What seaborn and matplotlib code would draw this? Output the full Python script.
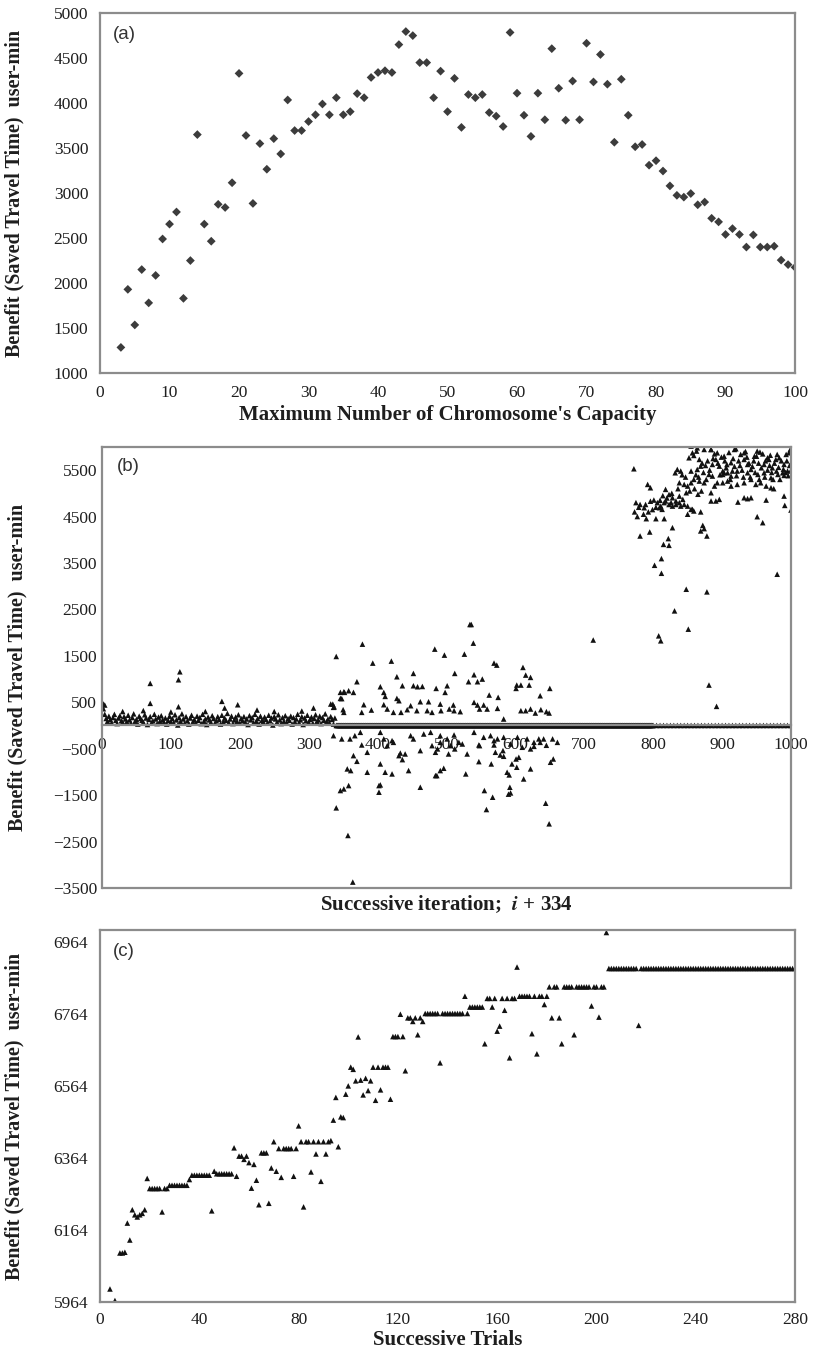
import matplotlib
matplotlib.use("Agg")
import matplotlib.pyplot as plt
import seaborn as sns

# ---- panel (a): benefit vs maximum chromosome capacity ----
a_capacity = list(range(3, 101))
a_benefit = [
    1285, 1930, 1535, 2150, 1780, 2085, 2490,
    2655, 2790, 1830, 2250, 3650, 2655, 2465, 2875, 2840, 3115,
    4330, 3640, 2885, 3550, 3265, 3605, 3435, 4035, 3695, 3695,
    3795, 3870, 3990, 3870, 4060, 3870, 3905, 4105, 4060, 4285,
    4340, 4360, 4340, 4650, 4795, 4750, 4450, 4450, 4060, 4355,
    3905, 4275, 3730, 4095, 4060, 4095, 3895, 3855, 3740, 4785,
    4110, 3865, 3630, 4110, 3815, 4605, 4165, 3810, 4245, 3815,
    4665, 4235, 4540, 4210, 3565, 4265, 3865, 3515, 3540, 3310,
    3360, 3245, 3080, 2975, 2955, 2995, 2870, 2900, 2720, 2680,
    2540, 2605, 2540, 2400, 2535, 2400, 2400, 2410, 2255, 2205,
    2175,
]

# ---- panel (b): benefit per successive iteration ----
b_band_iter = list(range(0, 340, 2))
b_band_val = [
    410, 360, 240, 150, 90, 200, 130, 60, 170, 240, 110, 40, 160, 210, 100, 70, 190,
    140, 80, 220, 120, 50, 170, 250, 90, 130, 30, 200, 150, 110, 70, 230, 160, 20,
    130, 190, 60, 100, 240, 140, 40, 180, 90, 210, 120, 70, 160, 30, 110, 200, 80,
    150, 60, 230, 120, 10, 170, 90, 250, 140, 50, 190, 100, 30, 160, 220, 80, 130,
    60, 200, 110, 170, 40, 240, 90, 140, 20, 180, 120, 70, 210, 150, 50, 100, 190,
    130, 30, 220, 80, 160, 110, 260, 60, 140, 200, 40, 120, 180, 90, 230, 50, 150,
    100, 190, 70, 140, 20, 210, 120, 170, 60, 240, 90, 150, 30, 200, 110, 80, 180,
    130, 50, 220, 100, 160, 10, 190, 140, 70, 230, 120, 40, 170, 90, 210, 60, 150,
    110, 200, 30, 170, 80, 140, 240, 60, 120, 190, 20, 160, 100, 220, 70, 130, 180,
    50, 150, 230, 90, 120, 200, 40, 170, 110, 250, 80, 140, 60, 190, 130, 30, 160,
]
b_band_out_iter = [70, 70, 111, 113, 111, 174, 178, 197, 225, 307, 332, 2, 4,
                   30, 60, 250, 290, 150, 100]
b_band_out_val = [906, 476, 984, 1156, 403, 519, 375, 446, 332, 375, 462, 462, 440,
                  300, 320, 300, 310, 300, 290]

b_zero_iter = list(range(340, 800)) + list(range(800, 1001, 5))
b_zero_val = [0] * len(b_zero_iter)

b_mid_iter = [
    378, 340, 393, 420, 483, 497, 526, 539, 569, 573, 611, 615, 622, 452, 512, 540,
    552, 545, 532, 428, 370, 351, 358, 365, 346, 404, 409, 411, 436, 452, 458, 465,
    485, 501, 498, 428, 431, 474, 462, 448, 380, 391, 377, 336, 351, 409, 414, 510,
    520, 511, 540, 545, 548, 559, 554, 562, 575, 601, 608, 602, 620, 636, 650, 608,
    615, 622, 629, 637, 645, 649, 491, 492, 504, 479, 472, 457, 443, 434, 423, 574,
    583, 534, 536, 713, 346, 352, 348, 335, 337, 350,
    336, 348, 360, 367, 375, 404, 409, 421, 414, 423, 448, 452, 467, 477, 491, 491,
    501, 511, 518, 523, 540, 547, 554, 564, 569, 574, 583, 593, 603, 617, 627, 636,
    645, 654, 661,
    365, 377, 385, 431, 436, 433, 440, 462, 479, 487, 484, 506, 512, 503, 530, 548,
    569, 571, 578, 583, 582, 601, 605, 610, 622, 627, 634, 641, 651, 655,
    370, 404, 385, 411, 421, 445, 486, 484, 491, 496, 528, 547, 565, 595, 602, 588,
    591, 622, 612, 356, 361, 462, 402, 402, 404, 351, 346, 358, 592, 593, 590, 555,
    567, 340, 558, 644, 649, 357, 364,
]
b_mid_val = [
    1751, 1486, 1343, 1386, 1644, 1515, 1536, 1773, 1343, 1300, 1250, 1085, 1035, 1121, 1121, 1092,
    999, 942, 942, 1049, 942, 726, 748, 712, 583, 834, 712, 626, 855, 855, 834, 840,
    798, 855, 712, 583, 533, 511, 511, 425, 447, 332, 282, 390, 282, 447, 354, 440,
    297, 318, 497, 440, 354, 354, 440, 655, 605, 798, 870, 870, 870, 640, 798, 318,
    318, 354, 268, 340, 297, 268, 460, 318, 354, 282, 318, 318, 340, 282, 282, 368,
    139, 2175, 2175, 1840, 713, 713, 578, 460, 400, 340,
    -220, -290, -290, -220, -148, -148, -290, -327, -435, -364, -220, -290, -184, -148, -220, -364,
    -290, -205, -364, -399, -148, -420, -255, -220, -327, -290, -255, -399, -255, -290, -364, -364,
    -427, -290, -364,
    -650, -420, -578, -650, -736, -595, -614, -542, -435, -505, -578, -435, -505, -614, -614, -435,
    -420, -578, -636, -664, -542, -722, -686, -470, -505, -450, -290, -290, -793, -722,
    -772, -829, -1008, -1008, -1044, -972, -1080, -1080, -972, -922, -1044, -779, -829, -829, -900, -1008,
    -1065, -936, -1152, -936, -972, -1331, -1295, -1438, -1280, -1367, -1402, -1295, -1331, -1453, -1480, -1402,
    -1546, -1775, -1811, -1675, -2119, -2370, -3374,
]

b_top_iter = [
    772, 792, 796,
    775, 773, 781, 787, 789, 796, 801, 806, 809, 811, 813, 816, 818, 823, 826, 828, 833,
    838, 840, 845, 850, 855, 859, 869,
    790, 804, 816, 828, 850, 857, 781, 795,
    818, 823, 828, 833, 838, 843, 848,
    832, 835, 840, 855, 864, 869,
    838, 845, 850, 855, 859, 867, 874,
    852, 859, 863, 867, 857,
    872, 874, 869, 878,
    815, 823, 822, 812, 802, 812,
    848, 878, 831, 851, 808, 811, 881, 892,
    891, 896, 901, 906, 908, 913, 920, 922, 927, 932, 937, 942, 947, 955, 961, 968,
    973, 978, 983, 990, 993, 999, 884, 886,
    884, 889, 893, 901, 908, 913, 922, 932, 942, 949, 956, 964, 971, 975,
    884, 891, 896, 923, 932, 937, 942, 964,
    881, 886, 901, 903, 913, 915, 937, 952, 961, 971, 981, 988, 995, 1000, 990,
    951, 959, 980, 990, 991, 1000,
    855, 864, 874, 884, 893, 903, 918, 932, 951, 966, 980, 997,
    876, 879, 882, 887, 889, 894, 897, 899, 904, 907, 910, 912, 916, 918, 921, 924,
    926, 929, 931, 934, 936, 939, 941, 944, 946, 948, 950, 953, 954, 957, 959, 962,
    963, 966, 969, 970, 972, 974, 976, 979, 982, 984, 986, 989, 992, 994, 996, 998,
    862, 866, 871, 873, 877, 860, 865, 870, 853, 847, 842, 836, 827, 820, 814, 810,
    804, 799, 793, 786, 779, 777,
]
b_top_val = [
    5529, 5192, 5120,
    4800, 4600, 4760, 4690, 4760, 4830, 4855, 4800, 4690, 4725, 4655, 4800, 4835, 4760, 4800, 4725, 4760,
    4800, 4725, 4760, 4725, 4655, 4620, 4600,
    4454, 4454, 4454, 4260, 4550, 4655, 4081, 4167,
    5085, 4975, 4905, 4835, 4940, 4870, 5013,
    5443, 5515, 5480, 5480, 5515, 5586,
    5228, 5192, 5157, 5228, 5300, 5264, 5228,
    5766, 5816, 5910, 5730, 5873,
    4310, 4240, 4190, 4081,
    3900, 3880, 4025, 3594, 3450, 3278,
    2934, 2877, 2468, 2074, 1930, 1823, 870, 411,
    5730, 5586, 5480, 5550, 5443, 5660, 5960, 5480, 5838, 5730, 5622, 5515, 5800, 5888, 5622, 5730,
    5550, 5730, 5766, 5622, 5838, 5945, 5945, 5622,
    5013, 5157, 5228, 5228, 5264, 5157, 5192, 5228, 5300, 5192, 5228, 5157, 5120, 5100,
    4835, 4835, 4870, 4812, 4905, 4885, 4905, 4855,
    5407, 5372, 5407, 5443, 5372, 5480, 5443, 5407, 5443, 5335, 5407, 5443, 5480, 5500, 5386,
    4497, 4368, 3257, 4941, 4740, 4640,
    6017, 5980, 5945, 5945, 5873, 5800, 5945, 5873, 5910, 5766, 5838, 5873,
    5600, 5700, 5500, 5750, 5850, 5650, 5400, 5780, 5700, 5620, 5880, 5300, 5750, 5580, 5380, 5700,
    5600, 5500, 5350, 5900, 5780, 5650, 5350, 5580, 5700, 5450, 5800, 5650, 5300, 5550, 5850, 5350,
    5700, 5500, 5600, 5820, 5450, 5300, 5650, 5480, 5560, 5300, 5700, 5520, 5450, 5700, 5380, 5600,
    5400, 5350, 5650, 5450, 5300, 5100, 4980, 5050, 5050, 5350, 5400, 5100, 5000, 4900, 4950, 4850,
    4700, 4650, 4600, 4550, 4700, 4500,
]

# ---- panel (c): benefit per successive trial ----
c_trials = [4, 6] + list(range(8, 281))
c_benefit = (
    [6000, 5968, 6100, 6100, 6102, 6183, 6136, 6220, 6206, 6200, 6206, 6210, 6220, 6307]
    + [6279] * 5 + [6214] + [6279] * 2 + [6288] * 8 + [6304] + [6316] * 8
    + [6217, 6327] + [6320] * 7
    + [6392, 6313, 6369, 6369, 6360, 6369, 6351, 6280, 6346, 6302, 6234]
    + [6378] * 3 + [6238, 6336, 6409, 6327, 6390, 6310] + [6390] * 4
    + [6313, 6390, 6453, 6409, 6228, 6409, 6409, 6325, 6409, 6375, 6409, 6299,
       6409, 6375, 6409, 6412, 6469, 6532, 6395, 6478, 6476, 6541, 6564, 6616,
       6610, 6578, 6700, 6580, 6539, 6585, 6551, 6578, 6616, 6524, 6616, 6553]
    + [6616] * 3 + [6527] + [6701] * 3 + [6763, 6701, 6606, 6753, 6753, 6743,
                                           6753, 6706, 6753, 6743]
    + [6765] * 6 + [6628] + [6765] * 9 + [6813, 6765] + [6783] * 6
    + [6681, 6807, 6807, 6783, 6807, 6716, 6730, 6807, 6774, 6807, 6642, 6807,
       6807, 6894]
    + [6813] * 5 + [6709, 6813, 6653, 6813, 6813, 6790, 6813, 6839, 6753, 6839,
                    6839, 6753, 6681]
    + [6839] * 4 + [6706] + [6839] * 6 + [6786, 6839, 6839, 6755, 6839, 6839, 6990]
    + [6890] * 12 + [6732] + [6890] * 63
)

sns.set_style("white")
plt.rcParams["font.family"] = ["Liberation Serif", "DejaVu Serif"]
plt.rcParams["mathtext.fontset"] = "stix"

spine_col = "#8c8c8c"
text_col = "#1e1e1e"
ylab = "Benefit (Saved Travel Time)  user-min"

fig = plt.figure(figsize=(8.14, 13.65), dpi=100)
ax_a = fig.add_axes([0.1229, 0.7267, 0.8538, 0.2637])
ax_b = fig.add_axes([0.1253, 0.3495, 0.8464, 0.3231])
ax_c = fig.add_axes([0.1229, 0.0462, 0.8538, 0.2725])

for ax in (ax_a, ax_b, ax_c):
    for sp in ax.spines.values():
        sp.set_color(spine_col)
        sp.set_linewidth(1.6)
    ax.tick_params(labelsize=12.5, labelcolor=text_col, color=spine_col, width=1.2)
    ax.set_facecolor("white")

# (a)
sns.scatterplot(x=a_capacity, y=a_benefit, marker="D", s=20, color="#3c3c3c",
                edgecolor="none", ax=ax_a)
ax_a.set_xlim(0, 100)
ax_a.set_ylim(1000, 5000)
ax_a.set_xticks(range(0, 101, 10))
ax_a.set_yticks(range(1000, 5001, 500))
ax_a.tick_params(direction="out", length=5)
ax_a.set_xlabel("Maximum Number of Chromosome's Capacity", fontsize=15,
                fontweight="bold", color=text_col, labelpad=3)
ax_a.text(0.019, 0.965, "(a)", transform=ax_a.transAxes, va="top", ha="left",
          fontsize=13.5, family="Liberation Sans", color="#333333")

# (b)
for xs, ys in [(b_band_iter, b_band_val), (b_band_out_iter, b_band_out_val),
               (b_zero_iter, b_zero_val), (b_mid_iter, b_mid_val),
               (b_top_iter, b_top_val)]:
    sns.scatterplot(x=xs, y=ys, marker="^", s=16, color="#111111",
                    edgecolor="none", ax=ax_b)
ax_b.set_xlim(0, 1000)
ax_b.set_ylim(-3500, 6000)
ax_b.set_xticks(range(0, 1001, 100))
ax_b.set_yticks(range(-3500, 5501, 1000))
ax_b.spines["bottom"].set_position(("data", 0))
ax_b.axhline(-3500, color=spine_col, lw=1.6, clip_on=False)
ax_b.tick_params(axis="both", length=0)
ax_b.tick_params(axis="x", pad=8)
ax_b.xaxis.set_label_coords(0.5, -0.012)
ax_b.set_xlabel(r"Successive iteration;  $\mathbfit{i}$ + 334", fontsize=15,
                fontweight="bold", color=text_col, va="top")
ax_b.text(0.022, 0.975, "(b)", transform=ax_b.transAxes, va="top", ha="left",
          fontsize=13.5, family="Liberation Sans", color="#333333")

# (c)
sns.scatterplot(x=c_trials, y=c_benefit, marker="^", s=16, color="#111111",
                edgecolor="none", ax=ax_c)
ax_c.set_xlim(0, 280)
ax_c.set_ylim(5964, 6997)
ax_c.set_xticks(range(0, 281, 40))
ax_c.set_yticks(range(5964, 6965, 200))
ax_c.tick_params(axis="y", direction="out", length=5)
ax_c.tick_params(axis="x", direction="inout", length=7)
ax_c.set_xlabel("Successive Trials", fontsize=15, fontweight="bold",
                color=text_col, labelpad=2)
ax_c.text(0.019, 0.965, "(c)", transform=ax_c.transAxes, va="top", ha="left",
          fontsize=13.5, family="Liberation Sans", color="#333333")

for ax in (ax_a, ax_b, ax_c):
    ax.set_ylabel(ylab, fontsize=14.5, fontweight="bold", color=text_col)
    ax.yaxis.set_label_coords(-0.108, 0.5)

fig.savefig("out.png", dpi=100, facecolor="white")
